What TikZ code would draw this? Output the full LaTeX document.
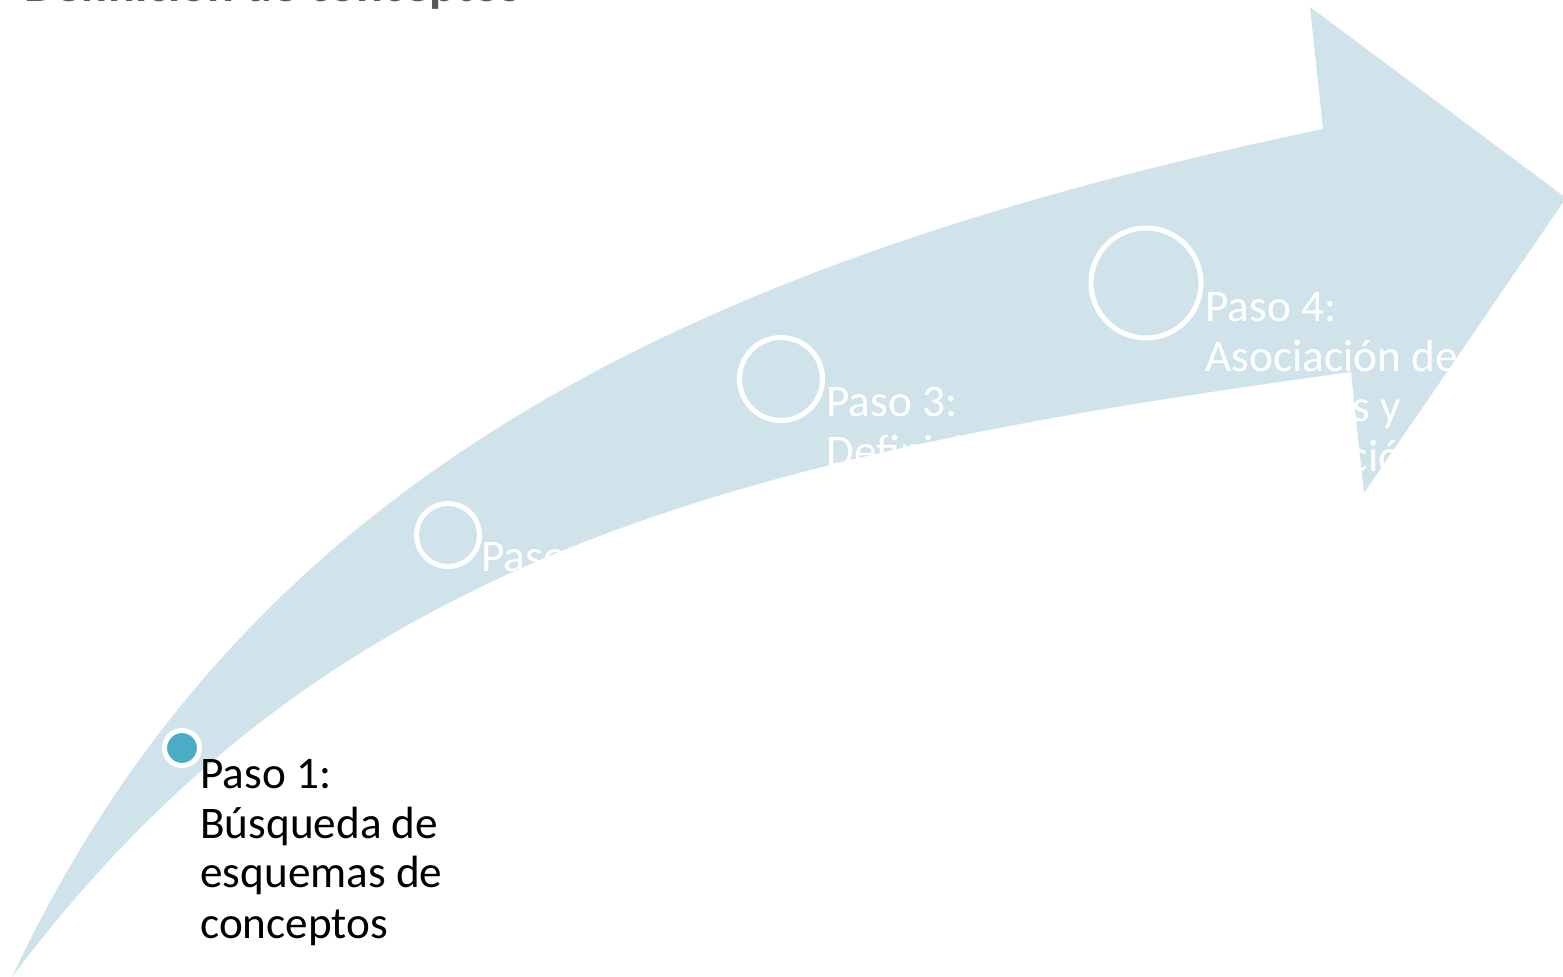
\documentclass[tikz,border=0pt]{standalone}
\usepackage{fontspec}
\setmainfont{Carlito}
\definecolor{arrowfill}{HTML}{D1E3EA}
\definecolor{accentblue}{HTML}{4BACC6}
\definecolor{titlegray}{HTML}{595959}
\newcommand{\steplines}[1]{\begin{tabular}[t]{@{}l@{}}#1\end{tabular}}
\tikzset{
  ring/.style={circle, draw=white, line width=2.5pt, inner sep=0pt},
  steptext/.style={anchor=base west, inner sep=0pt,
    font=\fontsize{22.6pt}{25pt}\selectfont, text=white},
  titletext/.style={anchor=base west, inner sep=0pt,
    font=\bfseries\fontsize{25pt}{30pt}\selectfont, text=titlegray}
}
\begin{document}
\begin{tikzpicture}[x=0.5pt,y=-0.5pt]
\useasboundingbox (0,0) rectangle (1563,977);
\fill[white] (0,0) rectangle (1563,977);
\clip (0,0) rectangle (1563,977);
% curved arrow
\fill[arrowfill]
  (12,977) .. controls (245.8,479.3) and (686.7,262.3) .. (1323,129)
  -- (1310,7) -- (1566,198) -- (1364,493) -- (1351,372)
  .. controls (731.6,456.4) and (327,557) .. (12,977)
  -- cycle;
% title
\node[titletext] (title) at (24,2) {Definición de conceptos};
% markers
\node[ring, fill=accentblue, minimum size=17.5pt] (c1) at (182,748) {};
\node[ring, minimum size=31.5pt] (c2) at (448,535) {};
\node[ring, minimum size=41.5pt] (c3) at (781,379) {};
\node[ring, minimum size=55pt] (c4) at (1146,283) {};
% step texts
\node[steptext, text=black] (t1) at (200,788) {\steplines{Paso 1:\\Búsqueda de\\esquemas de\\conceptos}};
\node[steptext] (t2) at (481,572) {\steplines{Paso 2:\\Selección de\\conceptos}};
\node[steptext] (t3) at (826,417) {\steplines{Paso 3:\\Definición de\\conceptos}};
\node[steptext] (t4) at (1205,322) {\steplines{Paso 4:\\Asociación de\\términos y\\clasificación}};
\end{tikzpicture}
\end{document}
